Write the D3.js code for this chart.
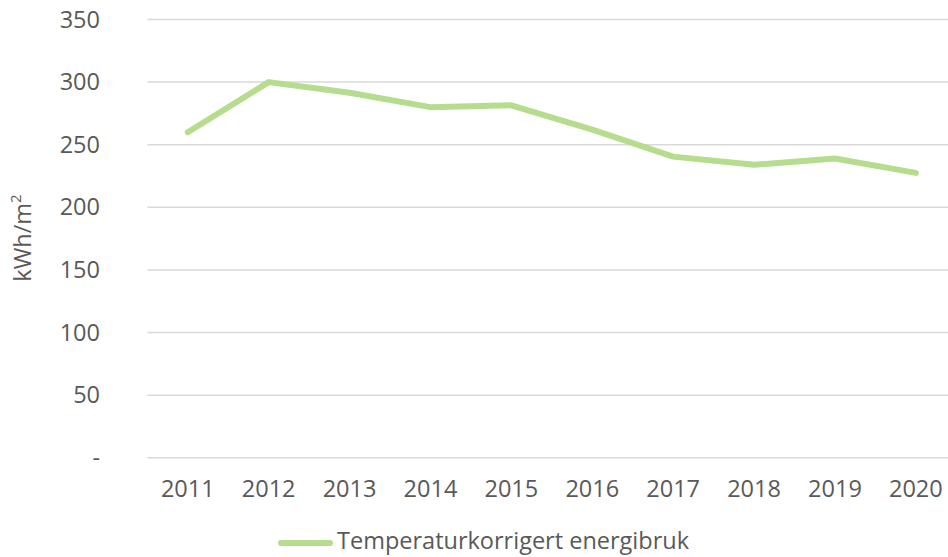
<!DOCTYPE html>
<html>
<head>
<meta charset="utf-8">
<script src="https://cdn.jsdelivr.net/npm/d3@7/dist/d3.min.js"></script>
<style>
  html, body { margin: 0; padding: 0; background: #fff; }
  svg { display: block; font-family: "Open Sans", Lato, sans-serif; }
</style>
</head>
<body>
<svg id="chart" width="948" height="557"></svg>
<script>
// data
const years = ['2011', '2012', '2013', '2014', '2015', '2016', '2017', '2018', '2019', '2020'];
const energy = [260, 300, 291.5, 280, 281.5, 262, 240.5, 234, 239, 227.5];
const yTicks = [0, 50, 100, 150, 200, 250, 300, 350];
const seriesName = 'Temperaturkorrigert energibruk';
const yLabel = 'kWh/m';

const lineColor = '#b6dc8e';
const gridColor = '#d9d9d9';
const textColor = '#595959';
const font = '"Open Sans", Lato, sans-serif';
const fontSize = '23.5px';

const svg = d3.select('#chart');

const x = d3.scaleBand()
  .domain(years)
  .range([147.3, 147.3 + 80.9 * years.length]);

const y = d3.scaleLinear()
  .domain([0, 350])
  .range([457.8, 19.5]);

// horizontal grid
svg.append('g')
  .selectAll('line')
  .data(yTicks)
  .enter()
  .append('line')
  .attr('x1', x.range()[0])
  .attr('x2', x.range()[1])
  .attr('y1', (d) => y(d))
  .attr('y2', (d) => y(d))
  .attr('stroke', gridColor)
  .attr('stroke-width', 1.5);

// y axis labels
const yAxis = svg.append('g')
  .attr('transform', 'translate(100,0)')
  .call(d3.axisLeft(y).tickValues(yTicks).tickSize(0).tickPadding(0)
    .tickFormat((d) => (d === 0 ? '-' : d)));
yAxis.select('.domain').remove();
yAxis.selectAll('text')
  .attr('fill', textColor)
  .style('font-size', fontSize)
  .style('font-family', font);

// x axis labels
const xAxis = svg.append('g')
  .attr('transform', 'translate(0,480)')
  .call(d3.axisBottom(x).tickSize(0).tickPadding(0));
xAxis.select('.domain').remove();
xAxis.selectAll('text')
  .attr('fill', textColor)
  .style('font-size', fontSize)
  .style('font-family', font);

// axis title
const title = svg.append('text')
  .attr('transform', 'translate(31,238) rotate(-90)')
  .attr('text-anchor', 'middle')
  .attr('fill', textColor)
  .style('font-size', fontSize);
title.append('tspan').text(yLabel);
title.append('tspan').attr('dy', '-10').style('font-size', '15px').text('2');

// the series
const line = d3.line()
  .x((d, i) => x(years[i]) + x.bandwidth() / 2)
  .y((d) => y(d));

svg.append('path')
  .datum(energy)
  .attr('d', line)
  .attr('fill', 'none')
  .attr('stroke', lineColor)
  .attr('stroke-width', 6)
  .attr('stroke-linejoin', 'round')
  .attr('stroke-linecap', 'round');

// legend
const legend = svg.append('g').attr('transform', 'translate(0,543)');
legend.append('line')
  .attr('x1', 281)
  .attr('x2', 330)
  .attr('stroke', lineColor)
  .attr('stroke-width', 6)
  .attr('stroke-linecap', 'round');
legend.append('text')
  .attr('x', 337)
  .attr('y', 6)
  .attr('fill', textColor)
  .style('font-size', fontSize)
  .text(seriesName);
</script>
</body>
</html>
